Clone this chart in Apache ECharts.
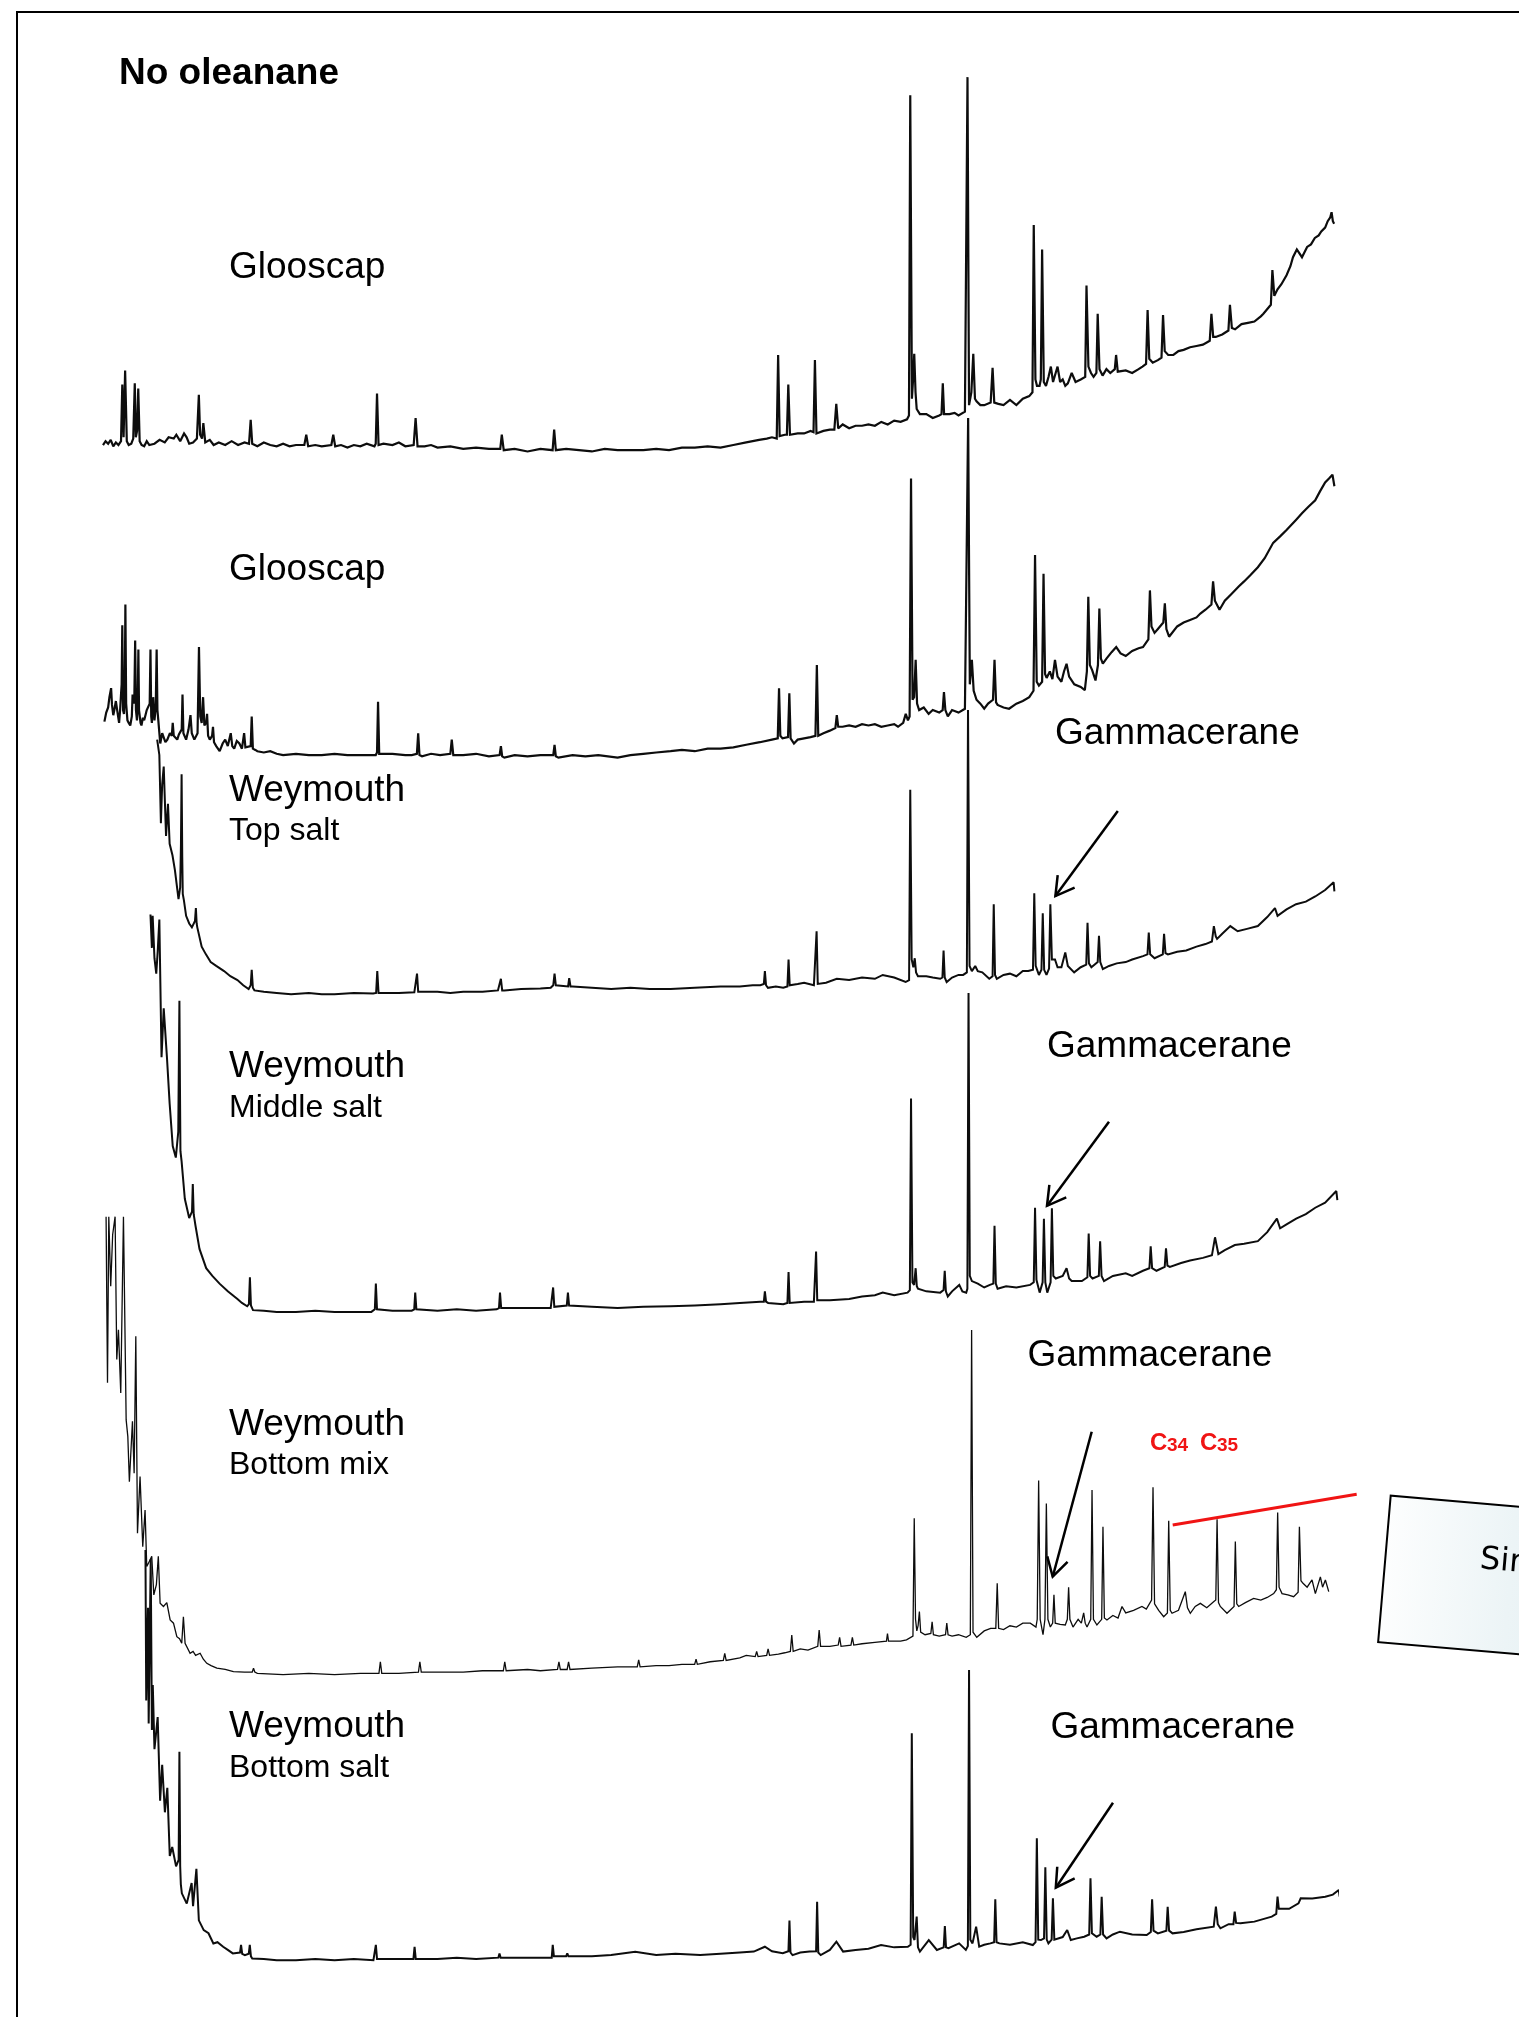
<!DOCTYPE html>
<html>
<head>
<meta charset="utf-8">
<script src="https://cdn.jsdelivr.net/npm/echarts@6/dist/echarts.min.js"></script>
<style>
html,body{margin:0;padding:0;background:#fff;}
#chart{width:1519px;height:2017px;}
</style>
</head>
<body>
<div id="chart"></div>
<script>
// ---- Data: [retention, relative abundance] ----
const glooscap1 = [[80,9],[82,12],[84,10],[86,13],[88,8],[90,11],[92,9],[94,12],[95,56],[96,15],[97.2,67],[98.5,12],[100,9],[102,10],[103.5,14],[104.7,57],[105.5,15],[106.5,20],[107.4,53],[108.5,12],[110,9],[112,8],[114,12],[116,9],[120,10],[124,13],[128,11],[131,15],[135,14],[137,17],[140,12],[143,18],[145,15],[147,10],[150,11],[153,14],[154.5,48],[155.5,17],[157,14],[158,26],[159.5,11],[163,13],[166,9],[170,11],[175,9],[180,12],[185,9],[190,11],[193.5,10],[194.8,28.5],[196,10],[200,8],[205,11],[210,9],[215,8],[220,10],[225,8],[230,9],[236.5,9],[238,17],[239.5,8],[245,9],[250,8],[257.5,9],[259,17],[260.5,8],[265,9],[270,7],[275,9],[280,8],[285,10],[291,8],[292,10],[293,49],[294.2,9],[298,10],[305,9],[310,11],[315,8],[321.5,9],[323,30],[324.5,8],[330,8],[335,9],[340,7],[350,8],[360,6],[370,7],[380,6],[388.8,6],[390,17],[391.5,5],[400,6],[410,4],[420,6],[429.5,5],[430.7,21],[432,5],[440,6],[450,5],[460,4],[470,6],[480,5],[490,5],[500,5],[510,6],[520,5],[530,7],[540,7],[550,8],[560,7],[570,9],[580,11],[590,13],[596,14],[600,15],[603.7,14],[604.8,79],[606,16],[610,17],[611.6,17],[612.7,56],[614,17],[620,18],[625,18],[630,20],[632.3,19],[633.4,75],[634.6,18],[640,20],[645,21],[648.5,21],[650,41],[651.5,22],[655,25],[660,22],[665,24],[670,24],[675,25],[680,24],[685,27],[690,25],[695,28],[700,27],[705,29],[706.5,32],[707.5,281],[708.8,45],[709.7,60],[710.6,80],[711.6,50],[712.5,37],[715,33],[720,33],[725,30],[730,32],[731.8,33],[732.8,57],[733.8,33],[738,33],[742,34],[745,32],[750,35],[751.2,36],[752,295],[753.2,40],[755,50],[756.5,80],[757.8,45],[759,43],[762,40],[765,40],[770,42],[771.5,69],[772.8,42],[776,41],[780,40],[785,44],[790,40],[795,45],[800,47],[802.5,50],[803.5,180],[804.8,60],[806,55],[808,55],[809,60],[810,161],[811.3,58],[813,55],[815,62],[816.8,70],[818.5,58],[820,59],[822,70],[824,58],[826,60],[828,55],[830,57],[833,65],[836,58],[840,60],[843.5,62],[844.5,133],[846,70],[848,65],[850,62],[852.2,65],[853.2,111],[854.6,68],[857,63],[860,68],[863,65],[866.5,68],[867.5,79],[868.8,66],[870,65],[875,67],[880,65],[885,68],[888,70],[890.8,72],[892,114],[893.3,76],[896,73],[900,75],[902.8,77],[904,110],[905.3,82],[908,79],[912,79],[916,82],[920,83],[925,85],[930,86],[935,87],[940.3,90],[941.6,111],[943,93],[945,93],[950,95],[954.8,98],[956,118],[957.5,100],[960,99],[965,103],[970,104],[975,105],[980,109],[982,111],[987.8,118],[989,145],[990.5,125],[993,130],[996,134],[1000,141],[1003,148],[1005,155],[1008,161],[1012,155],[1016,163],[1019,165],[1022,170],[1025,172],[1027,175],[1030,178],[1032,183],[1034,186],[1035,190],[1036,183],[1037,181]];

const glooscap2 = [[81.1,31],[82.5,38],[84,42],[85,50],[86.3,57],[87,44],[88,36],[89,41],[90,47],[91.3,38],[92.5,30],[93.3,40],[94,52],[94.5,60],[95,106],[95.6,40],[96.3,37],[96.9,50],[97.4,122],[98,45],[99,32],[100,30],[101.2,28],[102.4,35],[103,52],[104.3,45],[105,94],[105.6,40],[106.4,32],[107,45],[107.5,87],[108,40],[109.2,30],[109.9,28],[111,34],[112,32],[113,36],[114,40],[116.3,45],[116.9,87],[117.5,35],[118,30],[119,50],[120,32],[121,42],[121.7,87],[122.3,40],[123,32],[124.5,14],[126,22],[127.3,23],[128.5,15],[130,17],[132,22],[133.5,20],[134.2,30],[135,20],[137.7,17],[139,21],[141.2,25],[141.8,52],[142.5,22],[144.6,17],[146.5,25],[148,36],[149,22],[151,17],[153.5,22],[154.6,89],[155.6,35],[156.7,30],[157.8,50],[158.8,28],[160.2,30],[160.9,37],[161.7,20],[163,17],[164.8,20],[165.5,27],[166.3,15],[168,12],[170.7,8],[173,14],[175,17],[177,12],[179.3,22],[180.5,12],[182,10],[184,16],[186,14],[188,10],[189.7,22],[190.7,11],[192,10],[194.8,12],[195.6,35],[196.5,10],[198.4,9],[200,8],[205,7],[210,8],[215,6],[220,5],[230,6],[240,5],[250,5],[260,6],[270,5],[285,5],[292,5],[293,7],[293.8,46.5],[294.7,6],[296,5],[305,6],[315,5],[320,5],[324,6],[325,22],[326,5],[328,4],[335,6],[342,5],[350,6],[351.1,17],[352.3,5],[353,4],[360,5],[370,6],[380,4],[388.3,5],[389.3,12],[390.3,4],[392,3],[400,5],[410,4],[420,5],[430,5],[431,13],[432,4],[434,3],[445,5],[455,4],[465,5],[480,3],[490,5],[500,6],[510,7],[521.2,8],[530,9],[540,8],[550,10],[560,10],[570,11],[580,13],[590.6,15],[600,17],[604.5,18],[605.5,57],[606.5,20],[608.2,18],[612.5,19],[613.5,53],[614.5,18],[617.1,14],[620,17],[625,18],[630,19],[633.8,20],[634.9,75],[636,20],[637,19],[640,22],[645,24],[649.3,26],[650.4,36],[651.5,27],[654.9,27],[660,28],[665,27],[670,29],[675,28],[680,29],[685,27],[690,28],[695,29],[698,27],[702,30],[704,37],[705.7,32],[707,35],[708.1,220],[709.3,48],[710.5,50],[711.7,79],[712.8,45],[714.4,40],[718,42],[721.8,37],[725,40],[730,38],[732.7,40],[733.7,54],[734.8,40],[736.7,35],[740,40],[745,38],[750,41],[751.3,42],[752.5,267],[753.8,60],[755.4,79],[756.8,55],[759,48],[762,45],[765,41],[768,45],[771.8,48],[773,79],[774.2,46],[775.4,44],[780,42],[784.3,41],[790,45],[795,47],[800,50],[803.3,55],[804.5,160.5],[805.8,62],[807.5,59],[810,62],[811.1,146],[812.3,68],[813.5,65],[816,70],[818,64],[820,79],[822,66],[825,62],[827,70],[829,76],[831,66],[835,60],[840,58],[843.2,55.5],[844.8,70],[845.9,128],[847.1,75],[848.9,71],[851.5,63],[853.4,75],[854.5,119],[855.7,80],[857.2,76],[860,80],[864,85],[867.6,89],[871,84],[875,82],[880,86],[885,88],[888.4,89],[892.6,95],[893.8,133],[895,105],[897.4,100],[900,103],[904.2,108],[905.4,123],[906.6,103],[908.7,97],[915,105],[920,108],[925,110],[930,112],[933,115],[937,118],[941.6,122],[942.9,140],[944.3,125],[947.9,118],[952,125],[957,130],[962.8,136],[967,140],[972,145],[977.7,151],[983,158],[989.6,170],[995,175],[1000,180],[1007.5,188],[1012,193],[1017,198],[1022.3,203],[1026,210],[1030,217],[1033,220],[1035.7,223],[1037.2,214]];

const topSalt = [[122.1,201],[123.8,189],[125,136],[126,166],[127.2,180],[129,126],[130.5,151],[131.8,120],[134,111],[135.9,99.5],[138.7,77],[140,86],[140.6,120],[141.1,174],[141.6,110],[142,81],[142.9,76],[144.6,64],[147,58],[149.1,55],[151.5,60],[152.2,70],[152.8,58],[153.3,55],[156.7,40],[160,34],[163.7,28],[168,25],[174.1,21],[179,17],[184.5,14],[189,10],[193.2,7],[194.8,10],[195.6,22],[196.5,8],[197.7,6],[205,5],[215,4],[226.2,3],[240,4],[250,3],[260,3],[275,4],[290,3.5],[292.3,4],[293.2,21],[294.2,4],[295,3.5],[310,4],[322,4.5],[323.2,5],[324.1,19],[325,5],[326,4.5],[340,5],[350,4],[360,5],[375,5],[387,6],[388.5,6],[389.3,15],[390.3,6],[392,6],[405,7],[420,7.5],[428,8],[430,10],[431,19],[432,10],[433,9],[441.5,9],[442.4,15.6],[443.4,9],[445,9],[460,8],[475,7],[490,8],[505,7],[521.2,7],[540,8],[560,9],[575,9],[585,10],[590.9,10],[593.7,11],[594.5,21],[595.4,10],[596.9,8],[603,9],[608.8,8],[612,9],[612.9,30],[613.8,10],[614.7,10],[620,11],[625,12],[632.6,10],[633.8,11],[634.7,52],[635.6,11],[636.1,10],[642,12],[650.4,15],[660,14],[670,16],[680,15],[686.1,18],[695,16],[703.9,12.5],[706.6,14],[707.5,162],[708.6,30],[709.9,24],[711,31],[712,20],[713.5,17],[720,17],[725,16],[730.8,15],[732.5,16],[733.4,37],[734.3,16],[735.8,12.5],[740,16],[745,18],[748.6,18],[751.5,20],[752.4,224],[753.6,25],[755.4,21],[758,25],[760,21],[763.5,20],[768.9,15],[771.5,17],[772.4,73],[773.4,18],[774.8,15],[780,18],[785,19],[790,17],[795,21],[799.2,21],[802.9,22],[803.9,81.5],[805,25],[807.5,18],[809.5,22],[810.5,66],[811.6,22],[813.4,18],[815.4,23],[816.4,73],[817.6,30],[820,30],[822,24],[825,24],[828,35.5],[830,25],[834.9,20],[840,24],[844.3,26],[845.3,58.5],[846.4,27],[848.3,24],[853.2,28],[854.2,48.5],[855.2,28],[857.2,22.6],[862,25],[868,27],[875,28],[880,30],[888.4,32.6],[891.9,34],[892.9,51],[894,34],[897.4,31],[903.8,34],[904.8,50],[905.9,35],[907.8,34],[915,36],[922,37],[930,40],[937,42],[942,44],[943.5,56],[945,48],[946,46],[950,50],[956.3,56],[962,52],[970,54],[977.7,56],[985,63],[991,70],[993,64],[1000,69],[1007.4,73],[1015,75],[1022.3,79],[1030,84],[1036.6,90],[1037.2,83]];

const middleSalt = [[116.9,311],[118,285],[118.6,310],[120,277],[121.4,265],[122.5,282],[123.8,307],[125.5,200],[127.2,238],[129.7,200],[131.8,164],[134.2,131],[136.6,122],[138.5,142],[139,200],[139.4,244],[139.8,180],[140.2,127],[141.1,119],[143.6,90],[147,75],[149.2,80],[149.8,101.5],[150.5,78],[151.9,69],[155,51],[160.2,36],[165,30],[170.6,24],[177,18],[184.5,12],[188,9],[192.1,6.4],[193.4,8],[194.2,29],[195,7],[196.6,3.4],[205,3],[215,2],[230,2],[245,3],[260,2],[275,2],[288.6,2],[291.3,4],[292.1,24],[293,4],[294,3],[305,3],[320,3],[321.9,4],[322.7,17],[323.6,4],[325,3],[340,3],[355,4],[370,3],[386,4],[387.8,5],[388.6,17],[389.5,5],[391,4],[405,5],[418,5],[428,5],[429.1,6],[429.9,21],[430.8,6],[432,6],[440.5,7],[441.4,17],[442.3,7],[443.5,6],[460,6],[480,5],[500,6],[521.2,6.4],[540,7],[560,8],[575,9],[590.9,10],[593.7,10],[594.5,18],[595.4,10],[597,9],[608.8,8],[612,9],[612.9,33],[613.8,9],[614.7,8],[625,10],[632.6,10],[633.5,11],[634.3,49],[635.2,11],[636.1,10],[645,11],[660,12],[670,14],[680,15],[686.1,17],[695,15],[705.4,17],[707.2,19],[708.1,168],[709.2,25],[710.5,23],[711.7,36],[712.6,22],[713.5,20],[720,18],[730.8,17],[733.4,19],[734.3,34],[735.2,18],[736.7,14],[740,18],[745.6,23],[748,18],[751,17],[751.9,20],[752.8,250],[753.8,30],[755.4,26],[760,24],[765,21],[769.4,23],[772.1,24],[773,69],[774,24],[775.4,20],[782,22],[790,21],[800.7,23],[803.5,25],[804.5,83],[805.6,27],[808.1,17],[810.4,25],[811.4,74.5],[812.5,25],[814,17],[816.6,25],[817.6,82.5],[818.7,30],[820.6,28],[826,30],[829,36],[831,28],[833,26],[840.9,26],[845.2,29],[846.2,63],[847.3,30],[849.2,28],[854.1,30],[855.1,57],[856.2,30],[858.1,26],[865,30],[875,32],[880,30],[888.4,34],[893.4,36],[894.4,53],[895.5,36],[898.9,34],[905.3,37],[906.3,51.5],[907.4,38],[909.3,37],[918,40],[925,42],[935,44],[942,46],[944.4,60],[947,47],[952,50],[959.8,54],[967,55],[977.7,57],[985,64],[992.5,74.5],[995,67],[1000,70],[1007.5,74.5],[1015,78],[1022.3,83],[1030,87],[1038.7,96],[1039.5,89]];

const bottomMix = [[82.4,358],[83,286],[83.5,229],[84.5,358],[86,304],[87.5,344],[89.4,358],[90.7,247],[92,270],[93.8,221],[95.9,358],[97.2,358],[98,200],[99.3,187],[100.5,152],[102.9,199],[104.2,158.5],[105.5,265],[106.8,112],[108.8,156],[110.9,101.5],[112.7,130],[114,86],[116,90],[117.9,94],[119.5,64],[121.5,72],[123,94],[124.4,57.5],[127,55],[129.6,58],[132.2,44.5],[134.8,42],[137.4,31.5],[139.5,30],[141.2,26.4],[142.5,47],[143.8,26.4],[147.7,18.6],[150,20],[152,17],[155.5,18.6],[158,14],[160.7,10.8],[164,9],[168.5,7],[175,6],[181.4,4.3],[190,4],[196,4],[197,7],[198,4],[200,3],[220,2],[240,3],[260,2],[280,3],[294.5,3],[295.6,12],[296.7,3],[310,3],[325.2,4],[326.3,12],[327.4,4],[340,4],[360,4],[375,5],[391.2,5],[392.3,12],[393.4,5],[410,6],[420,5],[433.3,6],[434.4,12],[435.5,6],[440.8,6],[441.9,12],[443,6],[460,7],[480,8],[495.3,8],[496.4,13.4],[497.5,8],[510,9],[520,9],[530,10],[539.9,10],[541,14],[542,10],[552,12],[562.2,13],[563.3,18.6],[564.4,13],[575,15],[580,17],[587,16],[588.1,20],[589.2,16],[595.9,17],[597,22],[598.1,17],[605,18],[610,19],[614.3,20],[615.4,32.8],[616.5,20],[622,22],[628,21],[635.6,24],[636.7,36.7],[637.8,24],[645,24],[651.5,25],[652.6,31],[653.7,24],[661.4,25],[662.5,31],[663.6,25],[670,26],[680,27],[689,28],[689.8,34],[690.6,28],[700,28],[704.6,29],[709.6,32],[710.6,123.5],[711.6,45],[712.6,36],[713.6,40],[714.6,51],[715.6,35],[719,33],[723.5,34],[724.5,43],[725.5,33],[730,32],[734.9,33],[735.9,42],[736.9,33],[740,32],[745,33],[751,31],[754.2,33],[755.2,270],[756.3,35],[759.2,31],[765,36],[770,38],[774,38],[775.1,73],[776.2,38],[780,37],[785,40],[790,39],[795,42],[800.8,42],[805.2,39],[806.2,45],[807.3,153],[808.5,45],[810.7,33],[812.2,45],[813.3,135],[814.5,45],[816.4,39],[818.2,42],[819.2,64],[820.2,42],[824,41],[828,40.6],[829.6,45],[830.6,70],[831.6,45],[834,39],[838,45],[840.5,42],[842.3,50],[843.5,42],[844.9,39],[847.8,45],[848.8,145.5],[849.9,45],[852.6,40.6],[856.3,45],[857.3,117],[858.4,46],[860.4,44.5],[865,48],[869,46],[872.1,55],[875,50],[881.1,52],[887.6,55],[891,53],[895.1,60],[896.2,147.6],[897.4,57],[900.6,52],[904.5,47],[907.4,50],[908.4,121.7],[909.6,52],[911,49.7],[916,52],[921.3,66.5],[923,54],[925.2,49.7],[929,55],[933,57.4],[938,54],[943.3,58.7],[945,60],[946,122.7],[947.1,58],[948.5,55],[953.7,49.7],[959.2,55],[960.2,105.4],[961.3,57],[962.8,55],[968,58],[974.4,61.3],[980,60],[985,62],[990,65],[992.1,68],[993.1,128],[994.2,70],[996.5,65],[1001,64],[1005.5,62.6],[1009,66],[1010,117],[1011.2,75],[1012.8,73],[1016,70],[1019.8,75.6],[1022.4,65],[1026.3,78],[1028,70],[1030.2,75.6],[1032.8,66.5]];

const bottomSalt = [[113,321],[113.6,204],[115,276],[115.5,186],[117.1,314],[118,181],[118.7,216],[120,166],[122.5,191],[124.4,126],[126,154],[128.1,117],[130,136],[131.9,83],[133.8,90],[136.8,75],[138.8,80],[139.4,164],[140,75],[140.5,61],[141.3,54],[145.1,46],[148.9,62],[150,44],[152.6,73],[154.5,33],[158.3,25.4],[162,23],[165.8,15],[169,16],[173.4,12.5],[177,10],[180.9,7.3],[186.5,8],[187.3,14],[188.2,7],[190.3,6],[193.3,7],[194.1,14],[195,5],[196,3.4],[205,3],[215,2],[230,2],[245,3],[260,2],[275,3],[290.2,2],[291.3,3],[292.1,14],[293,3],[294,2.5],[305,3],[321.3,3],[322.2,12.5],[323.1,3],[324,3],[340,3],[355,4],[370,3],[387.3,4],[388.2,7.3],[389.1,4],[390,3],[405,4],[418,4],[428.8,4],[429.6,14],[430.5,5],[432,4],[440,5],[440.9,7.3],[441.8,5],[443,4],[460,5],[475,6],[493.7,8.6],[510,6],[525,7],[544.2,6],[560,7],[575,8],[585.9,8.7],[594.5,12.5],[600,9],[608.4,7.4],[612.8,9],[613.6,32.8],[614.4,8],[616,6],[622,8],[629.2,8.7],[634.3,9],[635.1,47.5],[636,8],[637.9,6],[645,10],[650.1,16.4],[655.3,8.7],[665,10],[675,11],[684.8,13.8],[695,12],[705.6,12.5],[707.8,14],[708.7,178.4],[709.8,20],[710.8,17.7],[712.5,35.9],[713.5,12],[715,8.7],[721.9,17.7],[728.2,10],[733.5,12],[734.4,28.6],[735.3,12],[737.2,11.3],[745.5,15.1],[750.7,10],[752.3,13],[753.2,227.6],[754.2,18],[755.9,15.1],[758.7,28.1],[761.1,12.5],[765,14],[769.8,15.1],[772.7,16],[773.6,49.3],[774.6,16],[776.8,15.1],[785,14],[795,16],[802.8,13.8],[804.9,16],[805.9,96.8],[807,18],[809.1,17.7],[811.5,19],[812.5,74.2],[813.6,18],[814.9,15.1],[817.4,18],[818.4,50.1],[819.5,18],[820.9,17.7],[826,20],[829.5,25.5],[832.3,17.7],[837,19],[842.7,20.3],[846.6,22],[847.6,65.7],[848.7,23],[852.4,20.3],[855.3,22],[856.3,51.4],[857.4,22],[860.1,19],[865,22],[870.5,24.2],[880,22],[891.3,21.6],[894.5,24],[895.5,49.3],[896.6,25],[900,22.9],[906.6,25],[907.6,43.6],[908.7,25],[911.4,22.9],[920,24],[930,26],[943.4,28.1],[945.1,43.6],[946.5,30],[948.6,26.8],[955,30],[958.7,30],[959.7,39.8],[960.8,31],[964.2,30.7],[975,32],[988.5,35.9],[992,38],[993,51.4],[994,42],[995.4,41],[1002,42],[1009.3,46.2],[1011,50.1],[1020,50],[1030.1,51.4],[1036,53],[1040.6,56.6],[1041.3,51.4]];

const sampleNames = ['Glooscap', 'Glooscap', 'Weymouth', 'Weymouth', 'Weymouth', 'Weymouth'];
const sampleSubtitles = ['', '', 'Top salt', 'Middle salt', 'Bottom mix', 'Bottom salt'];
const titleText = 'No oleanane';
const markerText = 'Gammacerane';
const homologueLabels = ['C', '34', 'C', '35'];
const boxText = 'Similar';

// ---- Layout (pixels) ----
const traces = [glooscap1, glooscap2, topSalt, middleSalt, bottomMix, bottomSalt];
const xMin = 80, xMax = 1040, yMax = 300;
const gridLeft = 103, gridRight = 181, gridHeight = 385.9;
const gridTops = [70.7, 375.6, 612.2, 928.6, 1291.3, 1576.9];
const lineWidths = [2.2, 2.2, 2.0, 2.0, 1.3, 2.0];

const FONT = '"Liberation Sans", Arial, Helvetica, sans-serif';

const grids = gridTops.map(t => ({left: gridLeft, right: gridRight, top: t, height: gridHeight, containLabel: false, outerBoundsMode: 'none'}));
const xAxes = gridTops.map((t, i) => ({type: 'value', gridIndex: i, min: xMin, max: xMax, show: false}));
const yAxes = gridTops.map((t, i) => ({type: 'value', gridIndex: i, min: 0, max: yMax, show: false}));
const series = traces.map((d, i) => ({
  type: 'line', xAxisIndex: i, yAxisIndex: i, data: d,
  showSymbol: false, symbol: 'none', clip: false, silent: true,
  lineStyle: {color: '#0d0d0d', width: lineWidths[i], join: 'miter', miterLimit: 2}, animation: false
}));

function txt(x, y, text, size, weight, color, family) {
  return {type: 'text', x: x, y: y, silent: true, z: 10,
    style: {text: text, fontSize: size, fontWeight: weight || 'normal', fontFamily: family || FONT,
      fill: color || '#000', align: 'left', verticalAlign: 'middle'}};
}
function arrow(x1, y1, x2, y2) {
  const dx = x2 - x1, dy = y2 - y1, L = Math.hypot(dx, dy);
  const bx = -dx / L, by = -dy / L, c = Math.cos(Math.PI / 6), s = Math.sin(Math.PI / 6), a = 21;
  const p1 = [x2 + a * (bx * c - by * s), y2 + a * (bx * s + by * c)];
  const p2 = [x2 + a * (bx * c + by * s), y2 + a * (-bx * s + by * c)];
  return [
    {type: 'line', silent: true, z: 10, shape: {x1: x1, y1: y1, x2: x2, y2: y2}, style: {stroke: '#000', lineWidth: 2.5}},
    {type: 'polyline', silent: true, z: 10, shape: {points: [p1, [x2, y2], p2]}, style: {stroke: '#000', lineWidth: 2.5, fill: 'none'}}
  ];
}

const RED = '#f01414';
const graphics = [
  {type: 'rect', silent: true, z: 1, shape: {x: 17, y: 12, width: 1700, height: 2200}, style: {fill: 'none', stroke: '#000', lineWidth: 2}},
  txt(119, 74.2, titleText, 37, 'bold'),
  // sample labels
  txt(229, 268, sampleNames[0], 37),
  txt(229, 570, sampleNames[1], 37),
  txt(229, 791, sampleNames[2], 37),
  txt(229, 831.5, sampleSubtitles[2], 32),
  txt(229, 1067, sampleNames[3], 37),
  txt(229, 1108, sampleSubtitles[3], 32),
  txt(229, 1425, sampleNames[4], 37),
  txt(229, 1465, sampleSubtitles[4], 32),
  txt(229, 1727, sampleNames[5], 37),
  txt(229, 1768, sampleSubtitles[5], 32),
  // gammacerane labels
  txt(1055, 734, markerText, 37),
  txt(1047, 1047, markerText, 37),
  txt(1027.5, 1356, markerText, 37),
  txt(1050.4, 1727.5, markerText, 37),
  // C34 C35
  txt(1150, 1443.7, homologueLabels[0], 24, 'bold', RED),
  txt(1167, 1446.2, homologueLabels[1], 19, 'bold', RED),
  txt(1200, 1443.7, homologueLabels[2], 24, 'bold', RED),
  txt(1217, 1446.2, homologueLabels[3], 19, 'bold', RED),
  {type: 'line', silent: true, z: 10, shape: {x1: 1172.7, y1: 1525, x2: 1356.7, y2: 1494.3}, style: {stroke: RED, lineWidth: 3}},
  // tilted callout box
  {type: 'group', x: 1390.7, y: 1495.7, rotation: -0.0855, z: 10, children: [
    {type: 'rect', silent: true, shape: {x: 0, y: 0, width: 420, height: 147},
      style: {fill: {type: 'linear', x: 0, y: 0, x2: 1, y2: 0, colorStops: [{offset: 0, color: '#fdfefe'}, {offset: 0.3, color: '#ecf4f6'}, {offset: 1, color: '#d5e7ee'}]},
        stroke: '#000', lineWidth: 2}},
    {type: 'text', silent: true, x: 94.5, y: 56.4, style: {text: boxText, fontSize: 32, fontFamily: '"DejaVu Sans", Verdana, sans-serif', fill: '#000', align: 'left', verticalAlign: 'middle'}}
  ]}
].concat(
  arrow(1117.8, 811, 1055.4, 896.1),
  arrow(1109, 1121.8, 1047, 1205.8),
  arrow(1091.7, 1431.7, 1052.7, 1576.7),
  arrow(1113, 1802.7, 1055.8, 1887.7)
);

const chart = echarts.init(document.getElementById('chart'), null, {renderer: 'canvas', width: 1519, height: 2017});
chart.setOption({
  backgroundColor: '#ffffff',
  animation: false,
  grid: grids,
  xAxis: xAxes,
  yAxis: yAxes,
  series: series,
  graphic: graphics
});
</script>
</body>
</html>
